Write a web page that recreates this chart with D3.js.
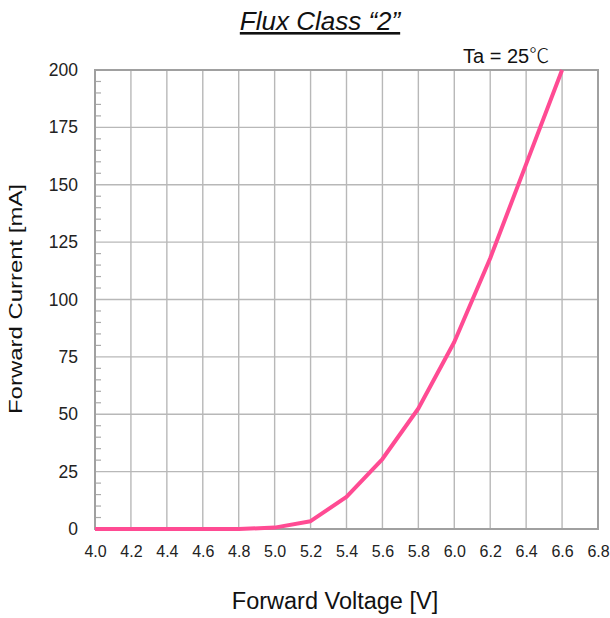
<!DOCTYPE html>
<html>
<head>
<meta charset="utf-8">
<script src="https://cdn.jsdelivr.net/npm/d3@7"></script>
<style>
  html, body { margin: 0; padding: 0; background: #fff; }
  svg { display: block; font-family: "Liberation Sans", Arial, sans-serif; }
</style>
</head>
<body>
<svg id="chart" width="610" height="618"></svg>
<script>
// Forward voltage vs forward current, Ta = 25 °C
const voltage = [4.0, 4.2, 4.4, 4.6, 4.8, 5.0, 5.2, 5.4, 5.6, 5.8, 6.0, 6.2, 6.4, 6.6];
const current = [0, 0, 0, 0, 0, 0.6, 3.4, 14, 30.5, 52.5, 81.5, 118, 159, 200];
const xTicks = [4.0, 4.2, 4.4, 4.6, 4.8, 5.0, 5.2, 5.4, 5.6, 5.8, 6.0, 6.2, 6.4, 6.6, 6.8];
const yTicks = [0, 25, 50, 75, 100, 125, 150, 175, 200];
const yMinorTicks = d3.range(0, 201, 5).filter(v => v % 25 !== 0);

const svg = d3.select("#chart");
const plot = { left: 95, right: 598, top: 70, bottom: 529 };

const x = d3.scaleLinear().domain([4.0, 6.8]).range([plot.left, plot.right]);
const y = d3.scaleLinear().domain([0, 200]).range([plot.bottom, plot.top]);

// grid
const grid = svg.append("g").attr("stroke", "#b8b8b8").attr("stroke-width", 1.4);
grid.selectAll("line.v").data(xTicks.slice(1, -1)).join("line")
  .attr("x1", d => x(d)).attr("x2", d => x(d))
  .attr("y1", plot.top).attr("y2", plot.bottom);
grid.selectAll("line.h").data(yTicks.slice(1, -1)).join("line")
  .attr("x1", plot.left).attr("x2", plot.right)
  .attr("y1", d => y(d)).attr("y2", d => y(d));

// minor ticks on the left axis (inside)
svg.append("g").attr("stroke", "#aaa").attr("stroke-width", 1.2)
  .selectAll("line").data(yMinorTicks).join("line")
  .attr("x1", plot.left).attr("x2", plot.left + 6)
  .attr("y1", d => y(d)).attr("y2", d => y(d));

// frame
svg.append("rect")
  .attr("x", plot.left).attr("y", plot.top)
  .attr("width", plot.right - plot.left).attr("height", plot.bottom - plot.top)
  .attr("fill", "none").attr("stroke", "#a0a0a0").attr("stroke-width", 2);

// tick labels via d3 axes
const xAxis = svg.append("g").attr("transform", `translate(0,${plot.bottom})`)
  .call(d3.axisBottom(x).tickValues(xTicks).tickFormat(d3.format(".1f")).tickSize(0).tickPadding(17));
xAxis.select(".domain").remove();
xAxis.selectAll("text").attr("font-size", 16).attr("fill", "#222")
  .attr("font-family", "Liberation Sans, Arial, sans-serif");

const yAxis = svg.append("g").attr("transform", `translate(${plot.left},0)`)
  .call(d3.axisLeft(y).tickValues(yTicks).tickSize(0).tickPadding(17));
yAxis.select(".domain").remove();
yAxis.selectAll("text").attr("font-size", 17.5).attr("fill", "#222")
  .attr("font-family", "Liberation Sans, Arial, sans-serif");

// curve
const line = d3.line().x((d, i) => x(voltage[i])).y(d => y(d));
svg.append("path").datum(current)
  .attr("d", line)
  .attr("fill", "none")
  .attr("stroke", "#ff4b93")
  .attr("stroke-width", 4)
  .attr("stroke-linejoin", "round");

// title
svg.append("text")
  .attr("x", 320).attr("y", 30)
  .attr("text-anchor", "middle")
  .attr("font-size", 26).attr("font-style", "italic")
  .attr("text-decoration", "underline")
  .attr("fill", "#111")
  .text("Flux Class “2”");

// condition note
const note = svg.append("text")
  .attr("x", 463).attr("y", 63)
  .attr("text-anchor", "start")
  .attr("font-size", 20).attr("fill", "#111");
note.append("tspan").text("Ta = 25");
note.append("tspan").attr("font-family", "Noto Sans CJK JP").attr("font-weight", 300).text("℃");

// axis titles
svg.append("text")
  .attr("x", 335).attr("y", 609)
  .attr("text-anchor", "middle")
  .attr("font-size", 23.5).attr("fill", "#111")
  .text("Forward Voltage [V]");

svg.append("text")
  .attr("transform", "translate(22,299) rotate(-90)")
  .attr("text-anchor", "middle")
  .attr("font-size", 18.5)
  .attr("textLength", 230).attr("lengthAdjust", "spacingAndGlyphs")
  .attr("fill", "#111")
  .text("Forward Current [mA]");
</script>
</body>
</html>
